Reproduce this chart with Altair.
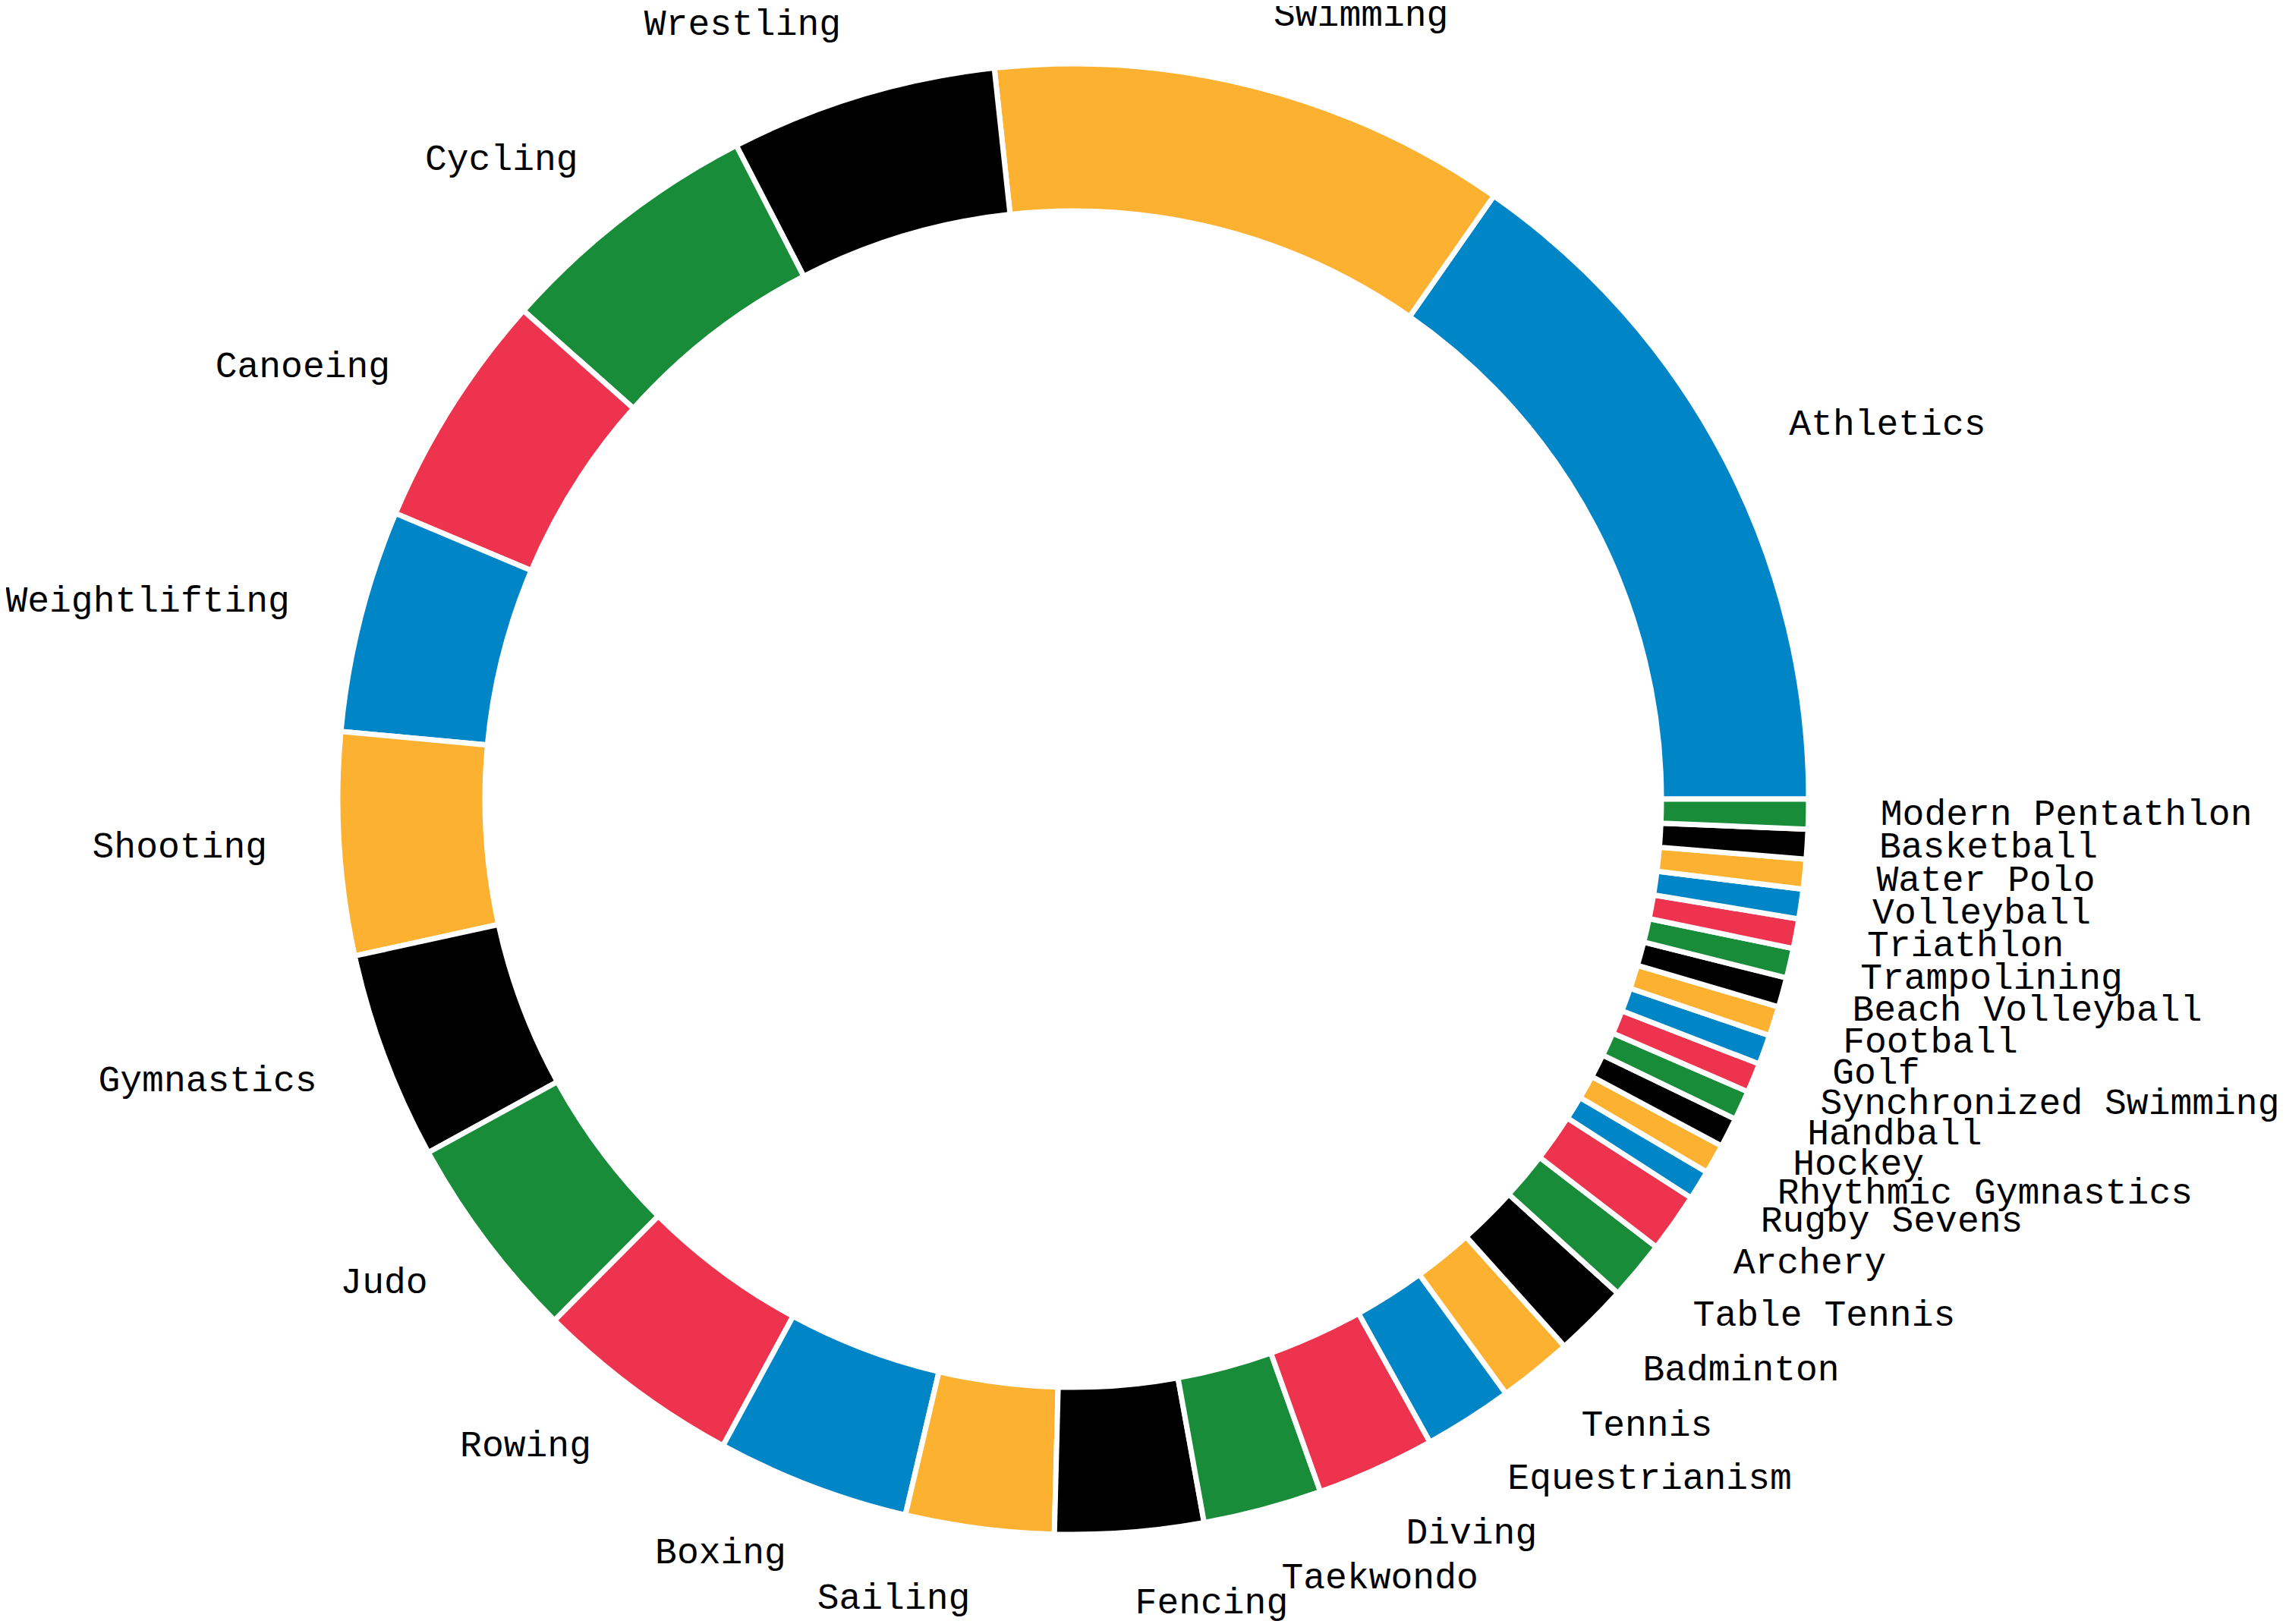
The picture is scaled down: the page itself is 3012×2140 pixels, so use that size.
import math
import altair as alt
import pandas as pd

sports = [
    "Athletics", "Swimming", "Wrestling", "Cycling", "Canoeing", "Weightlifting",
    "Shooting", "Gymnastics", "Judo", "Rowing", "Boxing", "Sailing", "Fencing",
    "Taekwondo", "Diving", "Equestrianism", "Tennis", "Badminton", "Table Tennis",
    "Archery", "Rugby Sevens", "Rhythmic Gymnastics", "Hockey", "Handball",
    "Synchronized Swimming", "Golf", "Football", "Beach Volleyball", "Trampolining",
    "Triathlon", "Volleyball", "Water Polo", "Basketball", "Modern Pentathlon",
]
events = [
    47, 35, 18, 18, 16, 15,
    15, 14, 14, 14, 13, 10, 10,
    8, 8, 6, 5, 5, 4,
    4, 2, 2, 2, 2,
    2, 2, 2, 2, 2,
    2, 2, 2, 2, 2,
]
ring_colors = ["#0085C7", "#FCB131", "#000000", "#198C3A", "#EE334E"]

total = sum(events)
df = pd.DataFrame({"sport": sports, "events": events, "idx": list(range(len(sports)))})

CX, CY = 1406, 1045
R_OUT = 969
R_IN = 775
R_LAB = 1064
FONT = "Liberation Mono"
FSIZE = 48

theta_scale = alt.Scale(domain=[0, total], range=[math.pi / 2, 5 * math.pi / 2])
order = alt.Order("idx:Q", sort="descending")

base = alt.Chart(df).transform_window(
    cum="sum(events)", sort=[alt.SortField("idx", order="descending")], frame=[None, 0]
).transform_calculate(
    frac="(datum.cum - datum.events / 2) / " + str(total)
).transform_calculate(
    right="datum.frac < 0.25 || datum.frac > 0.75"
).transform_calculate(
    lab_r="datum.right ? datum.sport : ''",
    lab_l="datum.right ? '' : datum.sport",
)

arcs = base.mark_arc(
    outerRadius=R_OUT, innerRadius=R_IN, stroke="white", strokeWidth=7
).encode(
    theta=alt.Theta("events:Q", stack=True, scale=theta_scale),
    color=alt.Color("sport:N", scale=alt.Scale(domain=sports, range=ring_colors), legend=None),
    order=order,
    x=alt.value(CX),
    y=alt.value(CY),
)

def labels(field, align):
    return base.mark_text(
        radius=R_LAB, align=align, baseline="middle", font=FONT, fontSize=FSIZE,
        color="black", dy=-2
    ).encode(
        theta=alt.Theta("events:Q", stack=True, scale=theta_scale),
        detail="sport:N",
        order=order,
        text=field + ":N",
        x=alt.value(CX),
        y=alt.value(CY),
    )

chart = alt.layer(arcs, labels("lab_r", "left"), labels("lab_l", "right")).properties(
    width=2996,
    height=2132,
    autosize=alt.AutoSizeParams(type="none"),
    padding=0,
).configure_view(strokeWidth=0)

chart.save("out.html", embed_options={"renderer": "svg", "actions": False})
